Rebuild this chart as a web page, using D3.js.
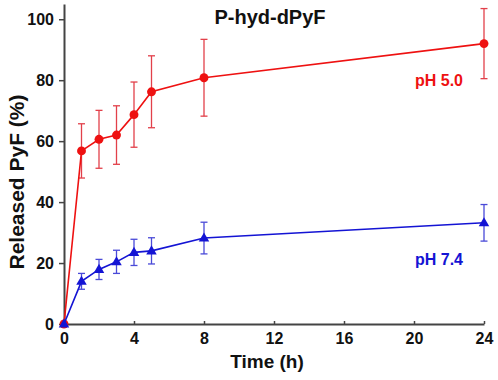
<!DOCTYPE html>
<html>
<head>
<meta charset="utf-8">
<script src="https://cdn.jsdelivr.net/npm/d3@7"></script>
<style>
  html, body { margin: 0; padding: 0; background: #fff; }
  svg { display: block; font-family: "Liberation Sans", Arial, Helvetica, sans-serif; }
</style>
</head>
<body>
<svg id="chart" width="498" height="380"></svg>
<script>
// ---- data ----
const times = [0, 1, 2, 3, 4, 5, 8, 24];
const ph50Mean = [0, 56.8, 60.6, 62.0, 68.7, 76.2, 80.8, 92.0];
const ph50Err  = [0, 8.9, 9.5, 9.6, 10.7, 11.8, 12.6, 11.5];
const ph74Mean = [0, 14.0, 17.9, 20.4, 23.5, 24.0, 28.2, 33.2];
const ph74Err  = [0, 2.6, 3.3, 3.8, 4.3, 4.3, 5.2, 6.0];
const xTicks = [0, 4, 8, 12, 16, 20, 24];
const yTicks = [0, 20, 40, 60, 80, 100];
const titleText = "P-hyd-dPyF";
const xLabel = "Time (h)";
const yLabel = "Released PyF (%)";
const seriesLabels = ["pH 5.0", "pH 7.4"];

// ---- layout ----
const svg = d3.select("#chart");
const x = d3.scaleLinear().domain([0, 24]).range([64, 484]);
const y = d3.scaleLinear().domain([0, 105]).range([324, 4]);
const axisColor = "#444";
const red = "#ee1111", redErr = "#e2404a";
const blue = "#1414d4", blueErr = "#4a4ad8";

// axes
const xAxis = svg.append("g").attr("transform", `translate(0,${y(0)})`)
  .call(d3.axisBottom(x).tickValues(xTicks).tickSizeInner(-3).tickSizeOuter(0).tickPadding(9));
const yAxis = svg.append("g").attr("transform", `translate(${x(0)},0)`)
  .call(d3.axisLeft(y).tickValues(yTicks).tickSizeInner(5).tickSizeOuter(0).tickPadding(5));
[xAxis, yAxis].forEach(g => {
  g.select(".domain").attr("stroke", axisColor).attr("stroke-width", 2);
  g.selectAll(".tick line").attr("stroke", axisColor).attr("stroke-width", 1.5);
  g.selectAll(".tick text").attr("fill", "#111").style("font-size", "16px").style("font-weight", "bold")
    .style("font-family", '"Liberation Sans", Arial, sans-serif');
});

// series
function drawSeries(mean, err, col, ecol, marker) {
  const pts = times.map((t, i) => ({ t, m: mean[i], e: err[i] }));
  const g = svg.append("g");
  // error bars
  pts.filter(d => d.e > 0).forEach(d => {
    g.append("line").attr("x1", x(d.t)).attr("x2", x(d.t)).attr("y1", y(d.m - d.e)).attr("y2", y(d.m + d.e))
      .attr("stroke", ecol).attr("stroke-width", 1.3);
    [d.m - d.e, d.m + d.e].forEach(v => {
      g.append("line").attr("x1", x(d.t) - 3.5).attr("x2", x(d.t) + 3.5).attr("y1", y(v)).attr("y2", y(v))
        .attr("stroke", ecol).attr("stroke-width", 1.3);
    });
  });
  g.append("path").datum(pts)
    .attr("d", d3.line().x(d => x(d.t)).y(d => y(d.m)))
    .attr("fill", "none").attr("stroke", col).attr("stroke-width", 1.6);
  const sym = d3.symbol().type(marker).size(marker === d3.symbolCircle ? 62 : 48);
  g.selectAll("path.mk").data(pts).enter().append("path").attr("class", "mk")
    .attr("d", sym).attr("transform", d => `translate(${x(d.t)},${y(d.m) + (marker === d3.symbolTriangle ? 0.5 : 0)})`)
    .attr("fill", col);
}
drawSeries(ph50Mean, ph50Err, red, redErr, d3.symbolCircle);
drawSeries(ph74Mean, ph74Err, blue, blueErr, d3.symbolTriangle);

// labels
svg.append("text").attr("x", 270).attr("y", 24).attr("text-anchor", "middle")
  .style("font-size", "20px").style("font-weight", "bold").attr("fill", "#111").text(titleText);
svg.append("text").attr("x", 267).attr("y", 368).attr("text-anchor", "middle")
  .style("font-size", "19px").style("font-weight", "bold").attr("fill", "#111").text(xLabel);
svg.append("text").attr("transform", "translate(24,182) rotate(-90)").attr("text-anchor", "middle")
  .style("font-size", "21px").style("font-weight", "bold").attr("fill", "#111").text(yLabel);
svg.append("text").attr("x", 415).attr("y", 86)
  .style("font-size", "16px").style("font-weight", "bold").attr("fill", red).text(seriesLabels[0]);
svg.append("text").attr("x", 415).attr("y", 265)
  .style("font-size", "16px").style("font-weight", "bold").attr("fill", blue).text(seriesLabels[1]);
</script>
</body>
</html>
